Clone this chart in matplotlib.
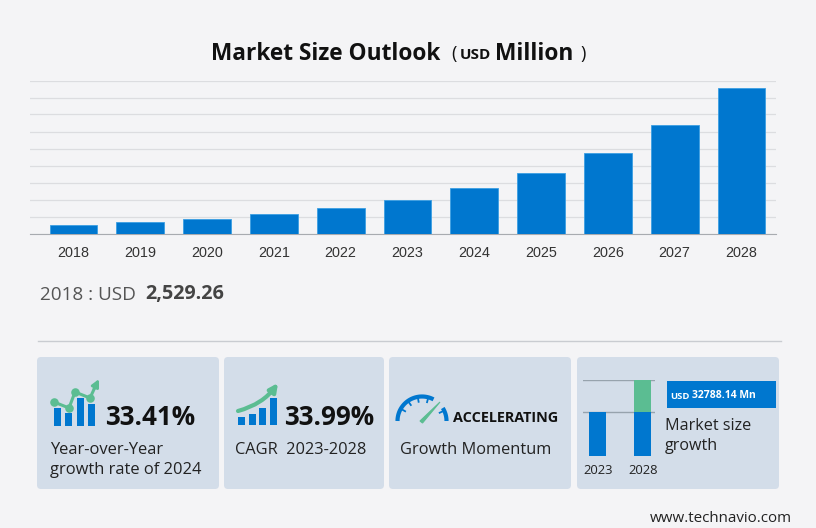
import numpy as np
import matplotlib
matplotlib.use("Agg")
import matplotlib.pyplot as plt
from matplotlib.patches import FancyBboxPatch, Rectangle

W, H = 816, 528
BG = "#f4f4f6"
BLUE = "#0077cf"
GREEN = "#5bbd92"
CARD = "#d3dde9"
DARK = "#111111"

# DATA
years = ["2018", "2019", "2020", "2021", "2022", "2023", "2024", "2025", "2026", "2027", "2028"]
market_size = [2529.26, 3380, 4350, 5730, 7500, 9940, 13261, 17700, 23680, 31800, 42728]
grid_step = 5000
y_max = 45000

mini_years = ["2023", "2028"]
mini_base = [9940, 9940]
mini_growth = [0, 7400]

plt.rcParams['font.family'] = ['Open Sans', 'DejaVu Sans']

fig = plt.figure(figsize=(W / 100, H / 100), dpi=100, facecolor=BG)


def axes_px(x0, y0, x1, y1):
    # axes placed by pixel box, y counted from the top
    return fig.add_axes([x0 / W, 1 - y1 / H, (x1 - x0) / W, (y1 - y0) / H])


# MAIN BARS
ax = axes_px(30, 80.5, 776, 233.5)
ax.set_facecolor("none")
xpos = np.arange(len(years))
ax.bar(xpos, market_size, width=0.715, color=BLUE, edgecolor="#3c9fe2", linewidth=0.6, zorder=3)
ax.set_xlim(-0.651, 10.517)
ax.set_ylim(0, y_max)
ax.set_yticks(np.arange(0, y_max + 1, grid_step))
ax.set_yticklabels([])
ax.grid(axis='y', color="#dcdde0", linewidth=0.9, zorder=0)
ax.set_xticks(xpos)
ax.set_xticklabels(years, family="Liberation Sans", fontsize=10.4, color="#333333")
ax.tick_params(axis='both', length=0, pad=9)
for name, spine in ax.spines.items():
    spine.set_visible(name == 'bottom')
ax.spines['bottom'].set_color("#a8abb0")

# OVERLAY IN PIXELS
ov = fig.add_axes([0, 0, 1, 1], zorder=-1)
ov.set_xlim(0, W)
ov.set_ylim(H, 0)
ov.axis('off')

top = fig.add_axes([0, 0, 1, 1], zorder=5)
top.set_xlim(0, W)
top.set_ylim(H, 0)
top.axis('off')
top.patch.set_alpha(0)

# title
top.text(211, 53.5, "Market Size Outlook", fontsize=16.3, fontweight='bold', color=DARK, va='center')
top.text(451, 54, "(", fontsize=13, color=DARK, va='center')
top.text(460, 55, "USD", fontsize=11, fontweight='bold', color=DARK, va='center')
top.text(495, 53.5, "Million", fontsize=16.4, fontweight='bold', color=DARK, va='center')
top.text(580, 54, ")", fontsize=13, color=DARK, va='center')

# first year value
top.text(40, 294.5, "2018 : USD", fontsize=13.6, color="#555555", va='center')
top.text(145, 293.5, "2,529.26", fontsize=14.2, fontweight='bold', color="#444444", va='center')
top.plot([38, 781], [340.5, 340.5], color="#c9ccd1", lw=1)

# cards
for x0, x1 in [(37, 219), (224, 384), (389, 571), (577, 779)]:
    ov.add_patch(FancyBboxPatch((x0 + 4, 361), x1 - x0 - 8, 124,
                                boxstyle="round,pad=4,rounding_size=4", fc=CARD, ec="none"))

# card 1 icon
for x, y in [(54, 408), (65, 413), (77, 398), (88, 404)]:
    top.add_patch(Rectangle((x, y), 6.5, 426 - y, fc=BLUE, ec="none"))
line_x = [54, 69, 75, 90, 96]
line_y = [402, 408, 392, 398, 385]
top.plot(line_x, line_y, color=GREEN, lw=2.2, solid_capstyle='round')
top.scatter(line_x[:4], line_y[:4], s=38, color=GREEN, zorder=4, linewidths=0)
top.annotate("", xy=(99, 379), xytext=(94, 389),
             arrowprops=dict(arrowstyle="-|>", color=GREEN, lw=2, mutation_scale=11, shrinkA=0, shrinkB=0))
top.text(105, 417.5, "33.41%", fontsize=18.7, fontweight='bold', color=DARK, va='center')
top.text(50, 450.5, "Year-over-Year", fontsize=11.9, color="#222222", va='center')
top.text(50, 470.5, "growth rate of 2024", fontsize=11.9, color="#222222", va='center')

# card 2 icon
for x, y in [(238, 417), (249, 414), (259, 408), (270, 398)]:
    top.add_patch(Rectangle((x, y), 7, 425 - y, fc=BLUE, ec="none"))
top.annotate("", xy=(278, 383), xytext=(238, 411),
             arrowprops=dict(arrowstyle="-|>", color=GREEN, lw=3, mutation_scale=12, shrinkA=0, shrinkB=0,
                             connectionstyle="arc3,rad=0.18"))
top.text(284, 417.5, "33.99%", fontsize=18.7, fontweight='bold', color=DARK, va='center')
top.text(235, 450.5, "CAGR  2023-2028", fontsize=11.8, color="#222222", va='center')

# card 3 gauge
for a0, a1 in [(180, 62), (32, 0)]:
    t = np.radians(np.linspace(a0, a1, 40))
    top.plot(422 + 24.5 * np.cos(t), 421 - 24.5 * np.sin(t), color=BLUE, lw=3, solid_capstyle='butt')
for a in [150, 125, 100, 75, 25]:
    r = np.radians(a)
    top.plot([422 + 24 * np.cos(r), 422 + 19.5 * np.cos(r)],
             [421 - 24 * np.sin(r), 421 - 19.5 * np.sin(r)], color=BLUE, lw=1.3)
top.fill([420, 440, 422.5], [421, 402, 423], color=GREEN, lw=0.8, ec=GREEN)
top.text(453, 418, "ACCELERATING", fontsize=10.4, fontweight='bold', color=DARK, va='center')
top.text(400, 450.5, "Growth Momentum", fontsize=11.8, color="#222222", va='center')

# card 4 mini chart
mini = axes_px(583, 380, 655, 456)
mini.set_facecolor("none")
mini.set_zorder(6)
mini.bar([0, 1], mini_base, width=0.376, color=BLUE, zorder=3)
mini.bar([0, 1], mini_growth, bottom=mini_base, width=0.376, color=GREEN, zorder=3)
mini.set_xlim(-0.325, 1.268)
mini.set_ylim(0, mini_base[1] + mini_growth[1])
mini.set_yticks([mini_base[0], mini_base[1] + mini_growth[1]])
mini.set_yticklabels([])
mini.grid(axis='y', color="#97a3ad", lw=1, zorder=4)
mini.set_xticks([0, 1])
mini.set_xticklabels(mini_years, fontsize=9.4, color="#222222")
mini.tick_params(axis='both', length=0, pad=6)
for spine in mini.spines.values():
    spine.set_visible(False)

top.add_patch(Rectangle((667, 381), 109, 27, fc=BLUE, ec="none"))
top.text(670, 396.5, "USD", fontsize=6.8, fontweight='bold', color="white", va='center')
top.text(692, 396, "32788.14 Mn", fontsize=7.5, fontweight='bold', color="white", va='center')
top.text(665, 425.5, "Market size", fontsize=11.6, color="#222222", va='center')
top.text(665, 445.5, "growth", fontsize=11.6, color="#222222", va='center')

top.text(650, 518, "www.technavio.com", fontsize=10.9, color="#222222", va='center')

fig.savefig("out.png", dpi=100, facecolor=BG)
